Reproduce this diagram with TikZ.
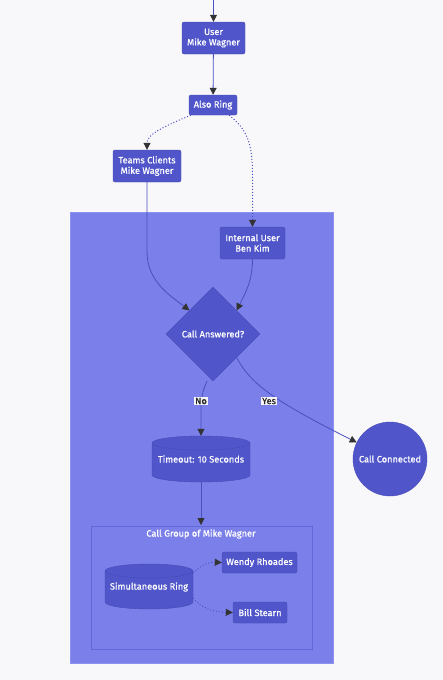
\documentclass[tikz,border=0pt]{standalone}
\usepackage{fontspec}
\setmainfont{Fira Sans}[FakeBold=0.6]
\usetikzlibrary{arrows.meta,shapes.geometric}
\definecolor{bgc}{HTML}{F8F8FA}
\definecolor{nodeb}{HTML}{5056C9}
\definecolor{nodeline}{HTML}{4549B8}
\definecolor{clus}{HTML}{7B7FE9}
\definecolor{clusline}{HTML}{8E92EF}
\definecolor{inner}{HTML}{6367D9}
\definecolor{edgec}{HTML}{4A4FC0}
\definecolor{tipc}{HTML}{333333}
\tikzset{
  fnt/.style={font=\fontsize{9.2}{10.5}\selectfont},
  box/.style={fnt,fill=nodeb,draw=nodeline,rounded corners=2pt,text=white,align=center,inner sep=0pt},
  txt/.style={fnt,text=white,align=center,inner sep=0pt},
  edge/.style={draw=edgec,line width=0.8pt,-{Triangle[length=7pt,width=7pt,fill=tipc,color=tipc]}},
  dotedge/.style={edge,dash pattern=on 1pt off 2pt,line width=1pt},
  elabel/.style={fnt,fill=white!92!gray,text=black!85,inner sep=1pt},
  cyl/.style={fill=nodeb,draw=nodeline}
}
\begin{document}
\begin{tikzpicture}[x=1pt,y=-1pt]
\useasboundingbox[fill=bgc] (0,0) rectangle (443,680);
% clusters
\draw[fill=clus,draw=clusline] (70,212) rectangle (333,663);
\draw[fill=clus,draw=inner] (91,526) rectangle (312,649);
\node[txt] (cgt) at (201,534) {Call Group of Mike Wagner};
% cylinders (shapes)
\path[cyl] (152,443) -- (152,475) arc[start angle=180,end angle=360,x radius=49,y radius=-7] -- (250,443) arc[start angle=0,end angle=180,x radius=49,y radius=-7] -- cycle;
\draw[nodeline] (152,443) arc[start angle=180,end angle=360,x radius=49,y radius=-7];
\path[cyl] (105,571) -- (105,602) arc[start angle=180,end angle=360,x radius=44,y radius=-7] -- (193,571) arc[start angle=0,end angle=180,x radius=44,y radius=-7] -- cycle;
\draw[nodeline] (105,571) arc[start angle=180,end angle=360,x radius=44,y radius=-7];
% nodes
\node[box,minimum width=63,minimum height=32] (user) at (213.5,38) {User\\Mike Wagner};
\node[box,minimum width=48,minimum height=20] (ring) at (213,105) {Also Ring};
\node[box,minimum width=68,minimum height=32] (teams) at (147,166) {Teams Clients\\Mike Wagner};
\node[box,minimum width=65,minimum height=32] (intu) at (252.5,243) {Internal User\\Ben Kim};
\node[fnt,diamond,fill=nodeb,draw=nodeline,text=white,minimum width=94,minimum height=94,inner sep=0pt] (dec) at (213,334) {Call Answered?};
\node[txt,minimum width=98,minimum height=46] (tmo) at (201,459) {Timeout: 10 Seconds};
\node[fnt,circle,fill=nodeb,draw=nodeline,text=white,minimum size=74,inner sep=0pt] (conn) at (390,459) {Call Connected};
\node[txt,minimum width=88,minimum height=45] (sim) at (149,587) {Simultaneous Ring};
\node[box,minimum width=75,minimum height=21] (wendy) at (259.5,562.5) {Wendy Rhoades};
\node[box,minimum width=54,minimum height=21] (bill) at (260,612.5) {Bill Stearn};
% edges
\coordinate (top) at (213.5,0);
\draw[edge] (top) -- (user);
\draw[edge] (user) -- (ring);
\draw[dotedge] ([xshift=2]ring.south west) .. controls (160,128) and (147,135) .. (teams.north);
\draw[dotedge] ([xshift=-8]ring.south east) .. controls (248,130) and (252.5,145) .. (252.5,175) -- (intu.north);
\draw[edge] (teams.south) -- (147,252) .. controls (147,282) and (172,297) .. (dec.north west);
\draw[edge] (intu.south) .. controls (252.5,280) and (246,292) .. (dec.north east);
\draw[edge] ([xshift=-6]dec.south) .. controls (202,392) and (201,400) .. (201,410) -- (tmo.north);
\draw[edge] (dec.south east) .. controls (250,382) and (268,398) .. (conn);
\draw[edge] (tmo.south) -- (201,525);
\draw[dotedge,line width=0.8pt] ([yshift=14]sim.east) .. controls (200,566) and (208,562) .. (wendy.west);
\draw[dotedge,line width=0.8pt] ([yshift=-11]sim.east) .. controls (200,607) and (212,612) .. (bill.west);
\node[elabel] (no) at (201,401) {No};
\node[elabel] (yes) at (269,401) {Yes};
\end{tikzpicture}
\end{document}
